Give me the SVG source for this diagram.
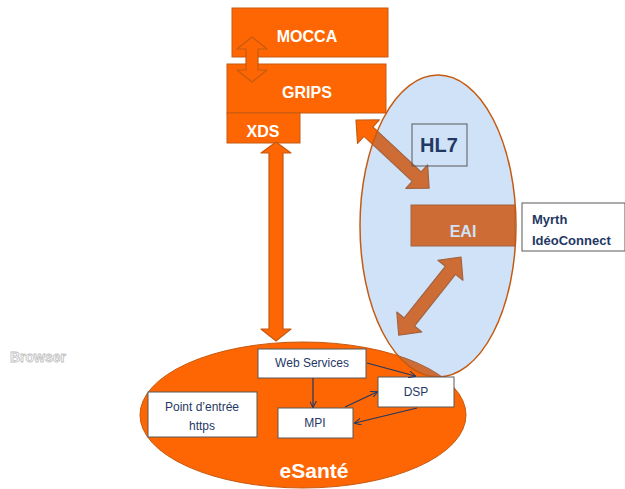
<svg xmlns="http://www.w3.org/2000/svg" width="625" height="489" viewBox="0 0 625 489">
<style>
.ob{fill:#fd6602;stroke:#c55a11;stroke-width:1}
.wt{fill:#ffffff;font-family:"Liberation Sans",Arial,sans-serif;font-weight:bold;text-anchor:middle}
.wb{fill:#ffffff;stroke:#595959;stroke-width:1}
.nt{fill:#1f3864;font-family:"Liberation Sans",Arial,sans-serif;font-size:12px;text-anchor:middle}
.big{fill:#fd6602;stroke:#c55a11;stroke-width:1.2;stroke-linejoin:round}
.cn{stroke:#1f3864;stroke-width:1.2;fill:none;marker-end:url(#ah)}
</style>
<defs>
<marker id="ah" viewBox="0 0 10 10" refX="9" refY="5" markerWidth="7" markerHeight="7" orient="auto" markerUnits="userSpaceOnUse">
<path d="M0,0 L10,5 L0,10" fill="none" stroke="#1f3864" stroke-width="1.5"/>
</marker>
<path id="darr" d="M0,0 L17,-16 L17,-6.5 L83,-6.5 L83,-16 L100,0 L83,16 L83,6.5 L17,6.5 L17,16 Z"/>
</defs>
<rect width="625" height="489" fill="#ffffff"/>

<g id="esante">
<ellipse cx="303" cy="415" rx="163" ry="73" class="ob"/>
<text x="314" y="478" class="wt" font-size="21">eSanté</text>
</g>

<g id="mocca">
<rect x="232" y="8" width="156" height="49" class="ob"/>
<text x="307" y="42" class="wt" font-size="16">MOCCA</text>
</g>
<g id="grips">
<rect x="227" y="64" width="159" height="49" class="ob"/>
<text x="307" y="98" class="wt" font-size="16">GRIPS</text>
</g>
<g id="xds">
<rect x="227" y="113" width="73" height="30" class="ob"/>
<text x="263" y="137" class="wt" font-size="16">XDS</text>
</g>

<g id="eai">
<rect x="411" y="205" width="104" height="41" class="ob"/>
<text x="463" y="237" class="wt" font-size="16">EAI</text>
</g>

<g id="connectors">
<polygon class="big" points="252,37 267,49 258,49 258,70 267,70 252,82 237,70 246,70 246,49 237,49"/>
<polygon class="big" points="276,142 291,153 283,153 283,329 291,329 276,341 261,329 269,329 269,153 261,153"/>
<use href="#darr" class="big" transform="translate(356,120) rotate(43)"/>
<use href="#darr" class="big" transform="translate(461,257) rotate(128.5)"/>
</g>

<g id="hl7-zone">
<ellipse cx="438" cy="226" rx="78" ry="151" fill="#3082e2" fill-opacity="0.23" stroke="#c55a11" stroke-width="1.5"/>
</g>

<g id="hl7">
<rect x="412" y="124" width="55" height="42" fill="none" stroke="#595959" stroke-width="1"/>
<text x="439" y="152" fill="#1f3864" font-family="Liberation Sans,Arial,sans-serif" font-weight="bold" font-size="20" text-anchor="middle">HL7</text>
</g>

<g id="myrth">
<rect x="522" y="203" width="103" height="48" class="wb"/>
<text x="532" y="224" fill="#1f3864" font-family="Liberation Sans,Arial,sans-serif" font-weight="bold" font-size="13">Myrth</text>
<text x="532" y="245" fill="#1f3864" font-family="Liberation Sans,Arial,sans-serif" font-weight="bold" font-size="13">IdéoConnect</text>
</g>

<g id="webservices">
<rect x="258" y="349" width="108" height="29" class="wb"/>
<text x="312" y="367" class="nt">Web Services</text>
</g>
<g id="dsp">
<rect x="378" y="377" width="76" height="30" class="wb"/>
<text x="416" y="396" class="nt">DSP</text>
</g>
<g id="mpi">
<rect x="278" y="408" width="75" height="30" class="wb"/>
<text x="315" y="427" class="nt">MPI</text>
</g>
<g id="point-entree">
<rect x="148" y="392" width="109" height="45" class="wb"/>
<text x="202" y="411" class="nt">Point d’entrée</text>
<text x="202" y="430" class="nt">https</text>
</g>

<g id="inner-connectors">
<line x1="313" y1="378" x2="313" y2="407" class="cn"/>
<line x1="367" y1="363" x2="415" y2="376" class="cn"/>
<line x1="345" y1="407" x2="377" y2="392" class="cn"/>
<line x1="417" y1="408" x2="355" y2="423" class="cn"/>
</g>

<g id="browser">
<text x="10" y="362" fill="#ffffff" stroke="#c0c0c0" stroke-width="0.8" font-family="Liberation Sans,Arial,sans-serif" font-weight="bold" font-size="14">Browser</text>
</g>
</svg>
